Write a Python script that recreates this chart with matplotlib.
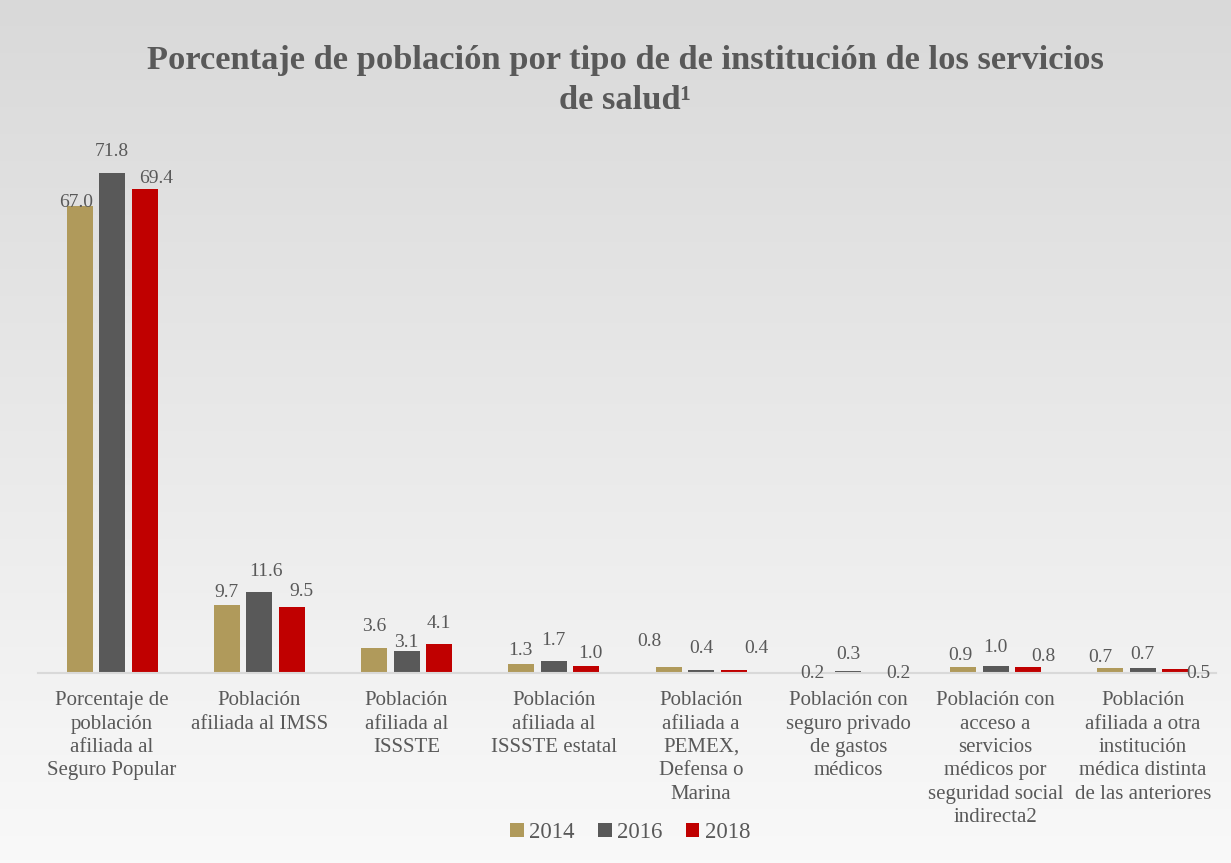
import numpy as np
import matplotlib
matplotlib.use("Agg")
import matplotlib.pyplot as plt

# categories and values
categories = [
    "Porcentaje de\npoblación\nafiliada al\nSeguro Popular",
    "Población\nafiliada al IMSS",
    "Población\nafiliada al\nISSSTE",
    "Población\nafiliada al\nISSSTE estatal",
    "Población\nafiliada a\nPEMEX,\nDefensa o\nMarina",
    "Población con\nseguro privado\nde gastos\nmédicos",
    "Población con\nacceso a\nservicios\nmédicos por\nseguridad social\nindirecta2",
    "Población\nafiliada a otra\ninstitución\nmédica distinta\nde las anteriores",
]
years = ["2014", "2016", "2018"]
v2014 = [67.0, 9.7, 3.6, 1.3, 0.8, 0.2, 0.9, 0.7]
v2016 = [71.8, 11.6, 3.1, 1.7, 0.4, 0.3, 1.0, 0.7]
v2018 = [69.4, 9.5, 4.1, 1.0, 0.4, 0.2, 0.8, 0.5]
colors = ["#b09a5b", "#595959", "#c00000"]

# label nudges (pixels, dx, dy) - labels were dragged around in the original
off2014 = [(-3, 3), (0, 13), (0, 21), (-1, 13), (-19, 26), (-3, -2), (-3, 11), (-10, 11)]
off2016 = [(0, 21), (7, 21), (0, 9), (0, 21), (0, 22), (0, 16), (0, 18), (0, 14)]
off2018 = [(12, 11), (10, 15), (0, 21), (4, 12), (23, 22), (18, -2), (15, 11), (23, -4)]

plt.rcParams['font.family'] = ['Liberation Serif', 'DejaVu Serif']
txt = "#595959"

fig = plt.figure(figsize=(12.31, 8.63), dpi=100)

# gradient background
bg = fig.add_axes([0, 0, 1, 1], zorder=-10)
grad = np.linspace(0, 1, 256).reshape(-1, 1)
cmap = matplotlib.colors.LinearSegmentedColormap.from_list("g", ["#d9d9d9", "#f9f9f9"])
bg.imshow(grad, aspect="auto", cmap=cmap, extent=[0, 1, 0, 1], origin="upper")
bg.axis("off")

ax = fig.add_axes([0.0312, 0.2202, 0.957, 0.6461])
ax.patch.set_alpha(0)

x = np.arange(len(categories))
w = 0.1766
step = 0.2207
series = [v2014, v2016, v2018]
offs = [off2014, off2016, off2018]
for i, (vals, col, off) in enumerate(zip(series, colors, offs)):
    xs = x + (i - 1) * step
    ax.bar(xs, vals, width=w, color=col, label=years[i], zorder=2)
    for xi, v, (dx, dy) in zip(xs, vals, off):
        ax.annotate(f"{v:.1f}", (xi, v), xytext=(dx, dy), textcoords="offset pixels",
                    ha="center", va="center", fontsize=14, color=txt)

ax.set_xlim(-0.5, len(categories) - 0.5)
ax.set_ylim(0, 80)
ax.set_yticks([])
ax.set_xticks(x)
ax.set_xticklabels(categories, fontsize=15, color=txt, linespacing=1.32)
ax.tick_params(axis="x", length=0, pad=13)
for s in ["top", "right", "left"]:
    ax.spines[s].set_visible(False)
ax.spines["bottom"].set_color("#d9d9d9")
ax.spines["bottom"].set_linewidth(1.5)

fig.text(0.508, 0.9065, "Porcentaje de población por tipo de de institución de los servicios\nde salud¹",
         ha="center", va="center", fontsize=24.8, fontweight="bold", color=txt, linespacing=1.37)

fig.legend(loc="center", bbox_to_anchor=(0.512, 0.035), ncol=3, frameon=False,
           fontsize=16.5, labelcolor=txt, handlelength=0.6, handleheight=0.6,
           handletextpad=0.25, columnspacing=1.0)

fig.savefig("out.png", dpi=100)
